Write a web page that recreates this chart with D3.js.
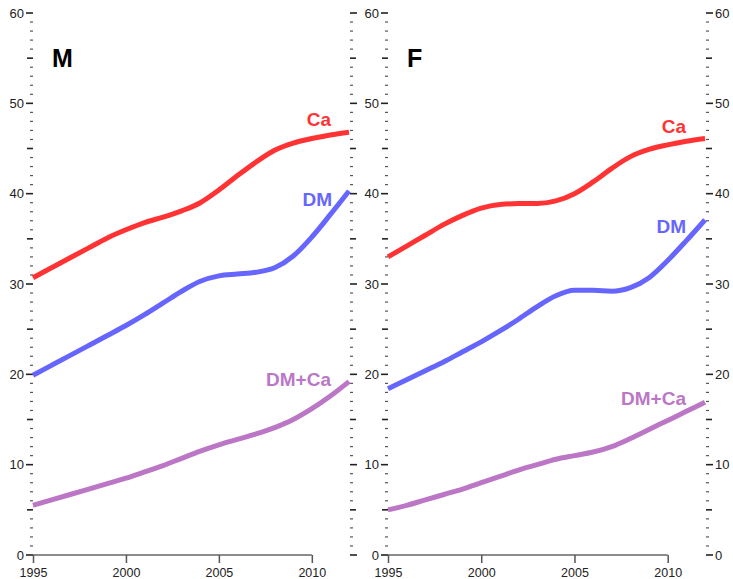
<!DOCTYPE html>
<html><head><meta charset="utf-8">
<script src="https://cdn.jsdelivr.net/npm/d3@7"></script>
<style>body{margin:0;background:#fff}svg{display:block}text{font-family:"Liberation Sans",Arial,sans-serif}</style>
</head><body>
<svg id="c" width="733" height="579"></svg>
<script>
const years = d3.range(1995, 2013);
const xTicks = [1995, 2000, 2005, 2010];
const yTicks = [0, 10, 20, 30, 40, 50, 60];
const seriesNames = ["Ca", "DM", "DM+Ca"];
const seriesColors = ["#ff3333", "#6666ff", "#bb77c6"];
const panelNames = ["M", "F"];
const mCa   = [30.7,31.8,32.9,34.0,35.1,36.0,36.8,37.4,38.1,39.0,40.4,42.0,43.5,44.8,45.6,46.1,46.5,46.8];
const mDM   = [19.9,21.0,22.1,23.2,24.3,25.4,26.6,27.9,29.2,30.3,30.9,31.1,31.3,31.8,33.1,35.2,37.7,40.3];
const mDMCa = [5.5,6.1,6.7,7.3,7.9,8.5,9.2,9.9,10.7,11.5,12.2,12.8,13.4,14.1,15.0,16.2,17.6,19.2];
const fCa   = [33.0,34.2,35.4,36.6,37.6,38.4,38.8,38.9,38.9,39.2,40.0,41.3,42.8,44.1,44.9,45.4,45.8,46.1];
const fDM   = [18.4,19.4,20.4,21.4,22.5,23.6,24.8,26.1,27.5,28.7,29.3,29.3,29.2,29.6,30.7,32.6,34.8,37.1];
const fDMCa = [5.0,5.5,6.1,6.7,7.3,8.0,8.7,9.4,10.0,10.6,11.0,11.4,12.0,12.9,13.9,14.9,15.9,16.9];

const panels = [
  {name: panelNames[0], data: [mCa, mDM, mDMCa], x0: 33, x1: 349,
   labelPos: [[331,126],[332,206],[331,386]], title: [52, 67]},
  {name: panelNames[1], data: [fCa, fDM, fDMCa], x0: 388, x1: 705,
   labelPos: [[686,133],[686,233],[686,405]], title: [407, 67]}
];

const svg = d3.select("#c");
const y = d3.scaleLinear().domain([0, 60]).range([555, 13]);

panels.forEach((p, pi) => {
  const x = d3.scaleLinear().domain([1995, 2012]).range([p.x0, p.x1]);
  const g = svg.append("g");
  const minor = d3.range(0, 61, 1);
  function yAxis(xPos, dir, labels) {
    const ag = g.append("g");
    minor.forEach(v => {
      const len = v % 10 === 0 ? 7 : (v % 5 === 0 ? 6 : 3);
      const w = v % 5 === 0 ? 1.6 : 1.2;
      ag.append("line").attr("x1", xPos).attr("x2", xPos + dir * len)
        .attr("y1", y(v)).attr("y2", y(v)).attr("stroke", v % 5 === 0 ? "#222" : "#555").attr("stroke-width", w);
    });
    if (labels) {
      yTicks.forEach(v => {
        ag.append("text").attr("x", xPos + dir * 9).attr("y", y(v)).attr("dy", "0.36em")
          .attr("text-anchor", dir < 0 ? "end" : "start").attr("font-size", 13).attr("fill", "#222").text(v);
      });
    }
  }
  yAxis(p.x0, -1, true);
  yAxis(p.x1 + 1, 1, pi === 1);
  const xa = d3.axisBottom(x).tickValues(xTicks).tickFormat(d3.format("d")).tickSize(8).tickSizeOuter(0);
  const xg = g.append("g").attr("transform", `translate(0,${y(0)})`).call(xa);
  xg.select(".domain").attr("d", `M${x(1995)},0H${x(2010)}`).attr("stroke", "#666").attr("stroke-width", 1.5);
  xg.selectAll(".tick line").attr("stroke", "#555").attr("stroke-width", 1.5);
  xg.selectAll(".tick text").attr("font-size", 12.5).attr("fill", "#222").attr("y", 21.5).attr("dy", "0")
    .style("font-family", '"Liberation Sans",Arial,sans-serif');
  const line = d3.line().x((d, i) => x(years[i])).y(d => y(d)).curve(d3.curveMonotoneX);
  p.data.forEach((arr, si) => {
    g.append("path").attr("d", line(arr)).attr("fill", "none")
      .attr("stroke", seriesColors[si]).attr("stroke-width", 5).attr("stroke-linecap", "butt");
    g.append("text").attr("x", p.labelPos[si][0]).attr("y", p.labelPos[si][1])
      .attr("text-anchor", "end").attr("font-size", 19).attr("font-weight", "bold")
      .attr("fill", seriesColors[si]).text(seriesNames[si]);
  });
  g.append("text").attr("x", p.title[0]).attr("y", p.title[1]).attr("font-size", 25)
    .attr("font-weight", "bold").attr("fill", "#000").text(p.name);
});
</script>
</body></html>
